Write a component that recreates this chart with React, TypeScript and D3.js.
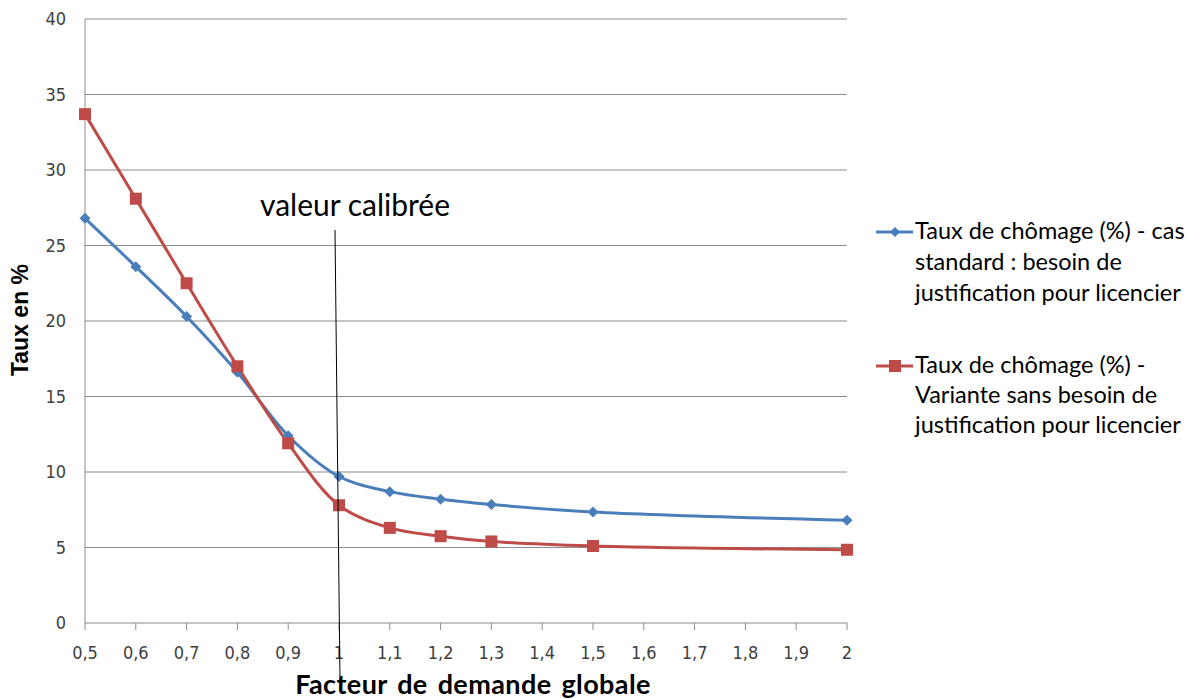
import React from "react";
import * as d3 from "d3";

const xValues = [0.5, 0.6, 0.7, 0.8, 0.9, 1, 1.1, 1.2, 1.3, 1.5, 2];
const standardSeries = [26.8, 23.6, 20.3, 16.6, 12.4, 9.7, 8.7, 8.2, 7.85, 7.35, 6.8];
const variantSeries = [33.7, 28.1, 22.5, 17.0, 11.9, 7.8, 6.3, 5.75, 5.4, 5.1, 4.85];
const xTicks = [0.5, 0.6, 0.7, 0.8, 0.9, 1, 1.1, 1.2, 1.3, 1.4, 1.5, 1.6, 1.7, 1.8, 1.9, 2];
const yTicks = [0, 5, 10, 15, 20, 25, 30, 35, 40];
const legendStandard = ["Taux de chômage (%) - cas", "standard : besoin de", "justification pour licencier"];
const legendVariant = ["Taux de chômage (%) -", "Variante sans besoin de", "justification pour licencier"];

const BLUE = "#4A7EBB";
const RED = "#BE4B48";

export default function App() {
  const W = 1187, H = 699;
  const left = 85, right = 847, top = 19, bottom = 623;
  const x = d3.scaleLinear().domain([0.5, 2]).range([left, right]);
  const y = d3.scaleLinear().domain([0, 40]).range([bottom, top]);
  const line = d3
    .line<number>()
    .x((_, i) => x(xValues[i]))
    .y((d) => y(d))
    .curve(d3.curveCatmullRom.alpha(0.5));
  const fmt = (v: number) => String(v).replace(".", ",");
  const tickFont = "'DejaVu Sans Condensed', 'DejaVu Sans', sans-serif";
  const legFont = "Lato, 'Open Sans', sans-serif";

  const diamond = (cx: number, cy: number, r: number) =>
    `M${cx},${cy - r}L${cx + r},${cy}L${cx},${cy + r}L${cx - r},${cy}Z`;

  return (
    <svg width={W} height={H} style={{ position: "absolute", left: 0, top: 0, background: "#fff" }}>
      {/* gridlines */}
      {yTicks.map((t) => (
        <line key={"g" + t} x1={left} x2={right} y1={y(t)} y2={y(t)} stroke="#8c8c8c" strokeWidth={1} />
      ))}
      {/* y axis */}
      <line x1={left} x2={left} y1={top} y2={bottom} stroke="#8c8c8c" strokeWidth={1} />
      {/* x ticks */}
      {xTicks.map((t) => (
        <line key={"xt" + t} x1={x(t)} x2={x(t)} y1={bottom} y2={bottom + 7} stroke="#8c8c8c" strokeWidth={1} />
      ))}
      {yTicks.map((t) => (
        <text key={"yl" + t} x={66} y={y(t) + 6} textAnchor="end" fontFamily={tickFont} fontSize={18} fill="#404040">
          {t}
        </text>
      ))}
      {xTicks.map((t) => (
        <text key={"xl" + t} x={x(t)} y={659} textAnchor="middle" fontFamily={tickFont} fontSize={18} fill="#404040">
          {fmt(t)}
        </text>
      ))}
      {/* axis titles */}
      <text x={473} y={694} textAnchor="middle" fontFamily={legFont} fontWeight="bold" fontSize={27} letterSpacing={0.4} wordSpacing={3} fill="#000">
        Facteur de demande globale
      </text>
      <text
        transform={`translate(28,${320}) rotate(-90)`}
        textAnchor="middle"
        fontFamily="'Liberation Sans', Arial, sans-serif"
        fontWeight="bold"
        fontSize={23}
        fill="#000"
      >
        Taux en %
      </text>
      {/* series */}
      <path d={line(standardSeries) || ""} fill="none" stroke={BLUE} strokeWidth={3} />
      <path d={line(variantSeries) || ""} fill="none" stroke={RED} strokeWidth={3} />
      {standardSeries.map((v, i) => (
        <path key={"d" + i} d={diamond(x(xValues[i]), y(v), 5.5)} fill={BLUE} />
      ))}
      {variantSeries.map((v, i) => (
        <rect key={"s" + i} x={x(xValues[i]) - 6} y={y(v) - 6} width={12} height={12} fill={RED} />
      ))}
      {/* calibrated value marker */}
      <line x1={x(1) - 4} y1={230} x2={x(1) + 1} y2={680} stroke="#000" strokeWidth={1} />
      <text x={355} y={216} textAnchor="middle" fontFamily={legFont} fontSize={30} fill="#000">
        valeur calibrée
      </text>
      {/* legend */}
      <line x1={876} x2={913} y1={232} y2={232} stroke={BLUE} strokeWidth={3} />
      <path d={diamond(895, 232, 5)} fill={BLUE} />
      {legendStandard.map((s, i) => (
        <text key={"ls" + i} x={915} y={239 + i * 31} fontFamily={legFont} fontSize={23.5} fill="#000">
          {s}
        </text>
      ))}
      <line x1={876} x2={913} y1={366} y2={366} stroke={RED} strokeWidth={3} />
      <rect x={889} y={360} width={12} height={12} fill={RED} />
      {legendVariant.map((s, i) => (
        <text key={"lv" + i} x={915} y={373 + i * 30} fontFamily={legFont} fontSize={23.5} fill="#000">
          {s}
        </text>
      ))}
    </svg>
  );
}
